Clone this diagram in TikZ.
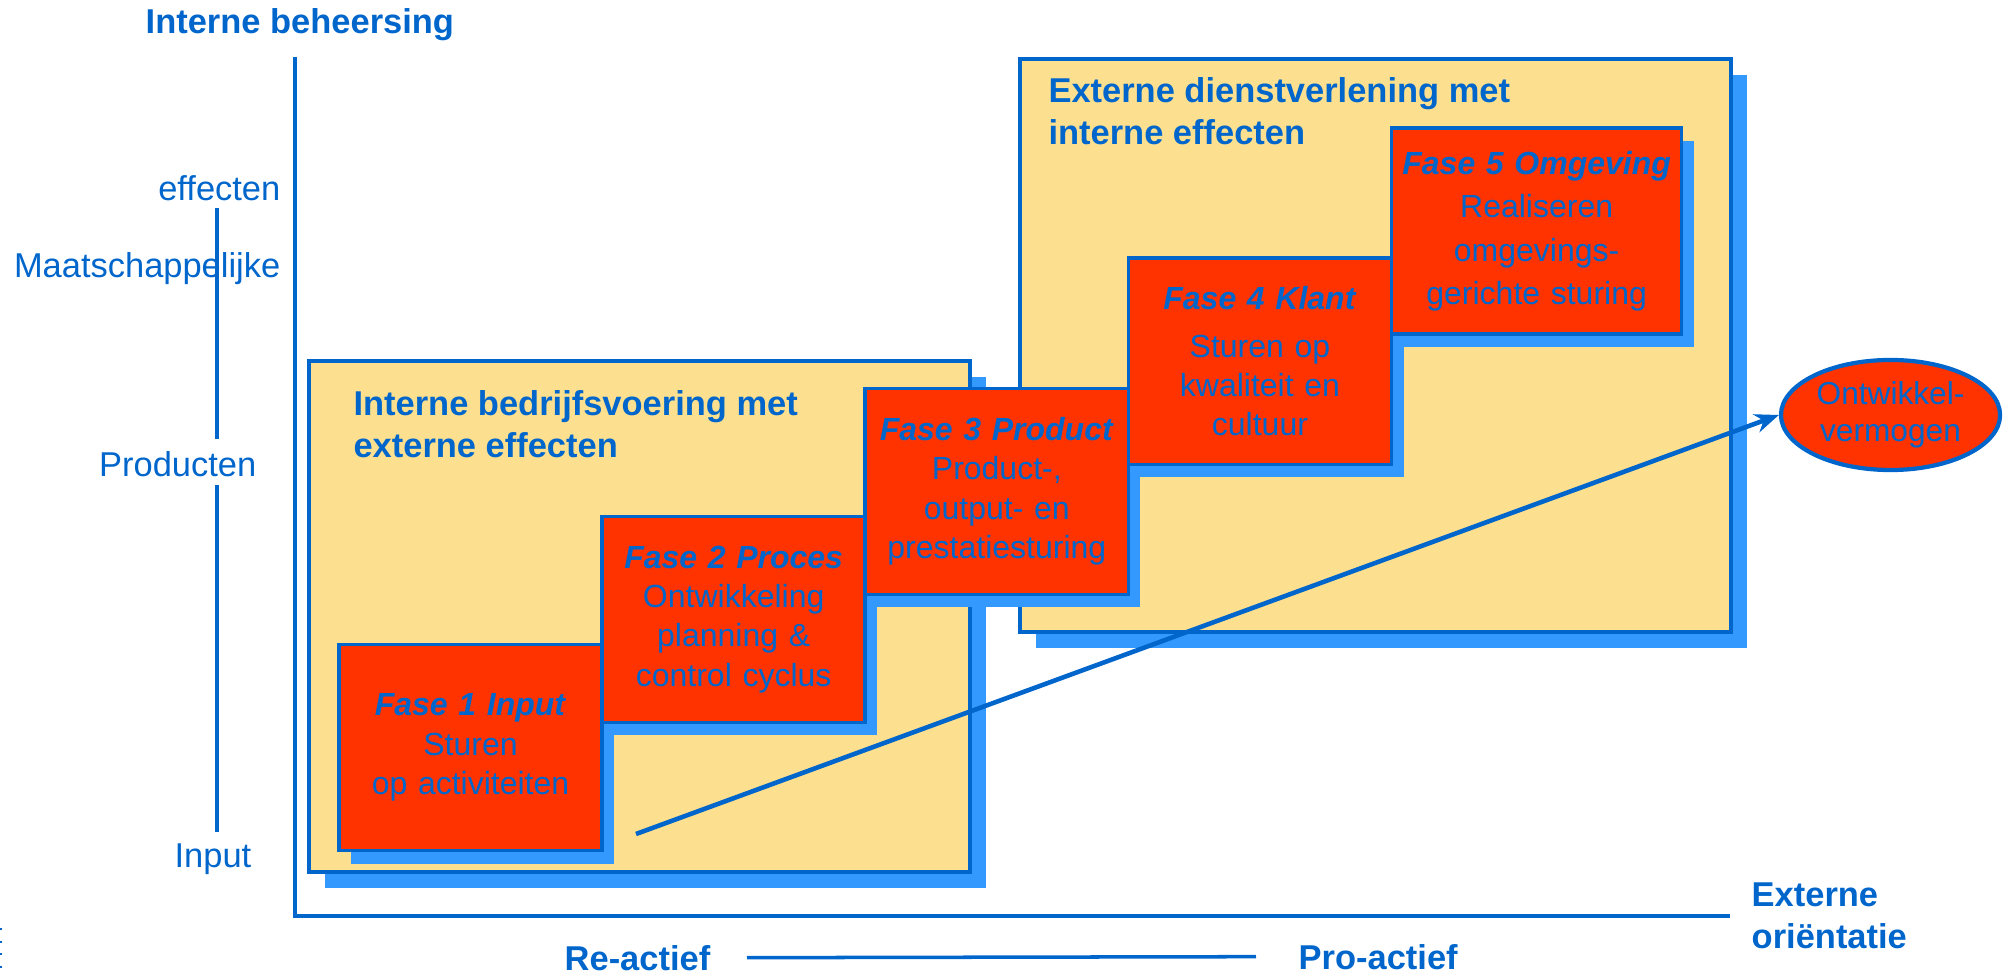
\documentclass[tikz,border=0pt]{standalone}
\usepackage{fontspec}
\setmainfont{Liberation Sans}
\usepackage{tikz}
\usetikzlibrary{shapes,arrows.meta,positioning,shadows}
\definecolor{lineblue}{RGB}{0,102,204}
\definecolor{shadowblue}{RGB}{51,153,255}
\definecolor{boxyellow}{RGB}{253,224,143}
\definecolor{faseorange}{RGB}{255,51,0}

\begin{document}
\begin{tikzpicture}[x=0.01cm, y=-0.01cm,
  lbl/.style={text=lineblue, inner sep=0, font=\fontsize{9.8}{11.8}\selectfont},
  kop/.style={text=lineblue, inner sep=0, align=left, font=\fontsize{9.8}{11.9}\selectfont\bfseries},
  vlak/.style={draw=lineblue, line width=1.1pt, fill=boxyellow, inner sep=0, outer sep=0,
    drop shadow={shadow xshift=0.16cm, shadow yshift=-0.16cm, fill=shadowblue, opacity=1}},
  fase/.style={draw=lineblue, line width=1pt, fill=faseorange, inner sep=0, outer sep=0,
    minimum width=2.63cm, minimum height=2.06cm, text width=2.55cm, align=center,
    text=lineblue, font=\fontsize{9.1}{11.2}\selectfont,
    drop shadow={shadow xshift=0.12cm, shadow yshift=-0.13cm, fill=shadowblue, opacity=1}},
  as/.style={lineblue, line width=1pt},
]
  \useasboundingbox (0,0) rectangle (2010,977);

  % de twee vlakken
  \node[vlak, minimum width=6.61cm, minimum height=5.11cm] (intern) at (639.5,616.5) {};
  \node[vlak, minimum width=7.11cm, minimum height=5.73cm] (extern) at (1375.5,345.5) {};
  \node[kop, anchor=north west] (interntitel) at ([xshift=0.44cm, yshift=-0.29cm]intern.north west)
    {Interne bedrijfsvoering met\\externe effecten};
  \node[kop, anchor=north west] (externtitel) at ([xshift=0.28cm, yshift=-0.18cm]extern.north west)
    {Externe dienstverlening met\\interne effecten};

  % de vijf fasen
  \node[fase] (fase1) at (470.5,747.5) {\textbf{\textit{Fase 1 Input}}\\Sturen\\op activiteiten};
  \node[fase, anchor=north west] (fase2) at ([yshift=1.28cm]fase1.north east)
    {\textbf{\textit{Fase 2 Proces}}\\Ontwikkeling\\planning \&\\control cyclus};
  \node[fase, anchor=north west] (fase3) at ([yshift=1.28cm]fase2.north east)
    {\textbf{\textit{Fase 3 Product}}\\Product-,\\output- en\\prestatiesturing};
  \node[fase, anchor=north west] (fase4) at ([yshift=1.30cm]fase3.north east)
    {\textbf{\textit{Fase 4 Klant}}\\[0.08cm]Sturen op\\kwaliteit en\\cultuur};
  \node[fase, anchor=north west, minimum width=2.9cm, text width=2.85cm,
    font=\fontsize{9.1}{12.4}\selectfont] (fase5) at ([yshift=1.30cm]fase4.north east)
    {\textbf{\textit{Fase 5 Omgeving}}\\Realiseren\\omgevings-\\gerichte sturing};

  \node[ellipse, draw=lineblue, line width=1.2pt, fill=faseorange, minimum width=2.19cm,
    minimum height=1.1cm, inner sep=0, align=center, text=lineblue,
    font=\fontsize{9}{10.5}\selectfont] (vermogen) at (1890.5,415) {Ontwikkel-\\vermogen};

  % assen
  \coordinate (ytop) at (295,57);
  \coordinate (oorsprong) at (295,916);
  \coordinate (xeind) at (1730,916);
  \draw[as, line width=1.1pt] (ytop) -- (oorsprong) -- (xeind);

  \node[kop, anchor=base west] (yas) at (145,34) {Interne beheersing};
  \node[kop, anchor=north west] (xas) at (1751,882) {Externe\\oriëntatie};
  \node[lbl, anchor=base east] (effecten) at (281,201) {effecten};
  \node[lbl, anchor=base east] (maatsch) at (281,278) {Maatschappelijke};
  \node[lbl, anchor=base east] (producten) at (257,477) {Producten};
  \node[lbl, anchor=base east] (input) at (252,867) {Input};
  \draw[as] (217,208) -- (217,439);
  \draw[as] (217,485) -- (217,832);

  \node[kop, anchor=base west] (reactief) at (564,970) {Re-actief};
  \node[kop, anchor=base west] (proactief) at (1298,969) {Pro-actief};
  \draw[as] ([xshift=0.36cm]reactief.east) -- ([xshift=-0.42cm]proactief.west);

  \draw[lineblue, line width=0.5pt, dash pattern=on 0.6pt off 3pt] (1,928) -- (1,975);

  % ontwikkelpijl
  \coordinate (pijlstart) at (636,834);
  \draw[as, line width=1.3pt, -{Stealth[length=0.24cm, width=0.19cm]}] (pijlstart) -- (vermogen.west);
\end{tikzpicture}
\end{document}
